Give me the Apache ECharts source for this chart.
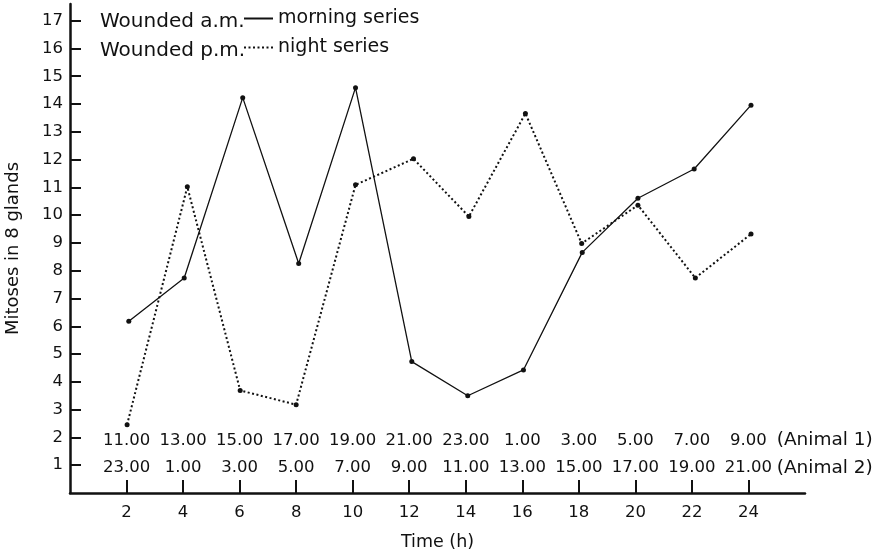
<!DOCTYPE html>
<html>
<head>
<meta charset="utf-8">
<script src="https://cdn.jsdelivr.net/npm/echarts@6/dist/echarts.min.js"></script>
<style>
  html, body { margin: 0; padding: 0; background: #fff; }
  #chart { width: 888px; height: 557px; }
</style>
</head>
<body>
<div id="chart"></div>
<script>
  // values
  var hours = [2, 4, 6, 8, 10, 12, 14, 16, 18, 20, 22, 24];
  var yTicks = [1, 2, 3, 4, 5, 6, 7, 8, 9, 10, 11, 12, 13, 14, 15, 16, 17];
  var morningX = [2.08, 4.04, 6.11, 8.09, 10.1, 12.09, 14.07, 16.04, 18.12, 20.09, 22.08, 24.09];
  var morningY = [6.18, 7.74, 14.23, 8.26, 14.59, 4.73, 3.50, 4.43, 8.66, 10.61, 11.66, 13.96];
  var nightX = [2.02, 4.15, 6.02, 8.0, 10.1, 12.15, 14.11, 16.11, 18.1, 20.09, 22.12, 24.09];
  var nightY = [2.46, 11.02, 3.69, 3.18, 11.09, 12.03, 9.95, 13.66, 8.98, 10.36, 7.74, 9.32];
  var animal1 = ['11.00', '13.00', '15.00', '17.00', '19.00', '21.00', '23.00', '1.00', '3.00', '5.00', '7.00', '9.00'];
  var animal2 = ['23.00', '1.00', '3.00', '5.00', '7.00', '9.00', '11.00', '13.00', '15.00', '17.00', '19.00', '21.00'];
  var rowNames = ['(Animal 1)', '(Animal 2)'];

  var FONT = 'DejaVu Sans';
  var INK = '#111';

  function pairs(xs, ys) {
    return xs.map(function (x, i) { return [x, ys[i]]; });
  }

  var timeRows = [];
  hours.forEach(function (h, i) {
    timeRows.push([h, 2, animal1[i]]);
    timeRows.push([h, 1, animal2[i]]);
  });
  var noteRows = [[25.0, 2, rowNames[0]], [25.0, 1, rowNames[1]]];

  var chart = echarts.init(document.getElementById('chart'));
  chart.setOption({
    animation: false,
    backgroundColor: '#fff',
    textStyle: { fontFamily: FONT, color: INK },
    grid: { left: 70, right: 83, top: 4, bottom: 64, containLabel: false, outerBoundsMode: 'none' },
    title: [
      { text: 'Wounded a.m.', left: 95, top: 7, textStyle: { fontFamily: FONT, fontSize: 20, fontWeight: 'normal', color: INK } },
      { text: 'Wounded p.m.', left: 95, top: 36, textStyle: { fontFamily: FONT, fontSize: 20, fontWeight: 'normal', color: INK } }
    ],
    legend: {
      data: ['morning series', 'night series'],
      orient: 'vertical',
      left: 243,
      top: 7,
      padding: 0,
      itemWidth: 29,
      itemHeight: 14,
      itemGap: 6,
      itemStyle: { opacity: 0 },
      textStyle: { fontFamily: FONT, fontSize: 19, color: INK, lineHeight: 23 }
    },
    xAxis: {
      type: 'value',
      min: 0,
      max: 26,
      interval: 2,
      name: 'Time (h)',
      nameLocation: 'middle',
      nameGap: 40,
      nameTextStyle: { fontFamily: FONT, fontSize: 17.5, color: INK },
      axisLine: { lineStyle: { color: INK, width: 2.5 } },
      axisTick: { inside: true, length: 13, customValues: hours, lineStyle: { color: INK, width: 2 } },
      axisLabel: { customValues: hours, margin: 11, fontFamily: FONT, fontSize: 16.5, color: INK },
      splitLine: { show: false }
    },
    yAxis: {
      type: 'value',
      min: 0,
      max: 17.6,
      interval: 1,
      name: 'Mitoses in 8 glands',
      nameLocation: 'middle',
      nameGap: 48,
      nameTextStyle: { fontFamily: FONT, fontSize: 18, color: INK },
      axisLine: { show: true, lineStyle: { color: INK, width: 2.5 } },
      axisTick: { show: true, inside: true, length: 11, customValues: yTicks, lineStyle: { color: INK, width: 2 } },
      axisLabel: { customValues: yTicks, margin: 7, fontFamily: FONT, fontSize: 16.5, color: INK },
      splitLine: { show: false }
    },
    series: [
      {
        name: 'morning series',
        type: 'line',
        data: pairs(morningX, morningY),
        symbol: 'circle',
        symbolSize: 5,
        itemStyle: { color: INK },
        lineStyle: { color: INK, width: 1.3, type: 'solid' }
      },
      {
        name: 'night series',
        type: 'line',
        data: pairs(nightX, nightY),
        symbol: 'circle',
        symbolSize: 5,
        itemStyle: { color: INK },
        lineStyle: { color: INK, width: 2, type: [2, 2.5] }
      },
      {
        name: 'times',
        type: 'scatter',
        data: timeRows,
        symbolSize: 0,
        clip: false,
        silent: true,
        itemStyle: { opacity: 1, color: INK },
        label: {
          show: true,
          position: 'inside',
          align: 'center',
          verticalAlign: 'middle',
          offset: [0, 3],
          formatter: function (p) { return p.value[2]; },
          fontFamily: FONT, fontSize: 16.5, color: INK
        }
      },
      {
        name: 'rows',
        type: 'scatter',
        data: noteRows,
        symbolSize: 0,
        clip: false,
        silent: true,
        itemStyle: { opacity: 1, color: INK },
        label: {
          show: true,
          position: 'inside',
          align: 'left',
          verticalAlign: 'middle',
          offset: [0, 3],
          formatter: function (p) { return p.value[2]; },
          fontFamily: FONT, fontSize: 18.5, color: INK
        }
      }
    ]
  });
</script>
</body>
</html>
